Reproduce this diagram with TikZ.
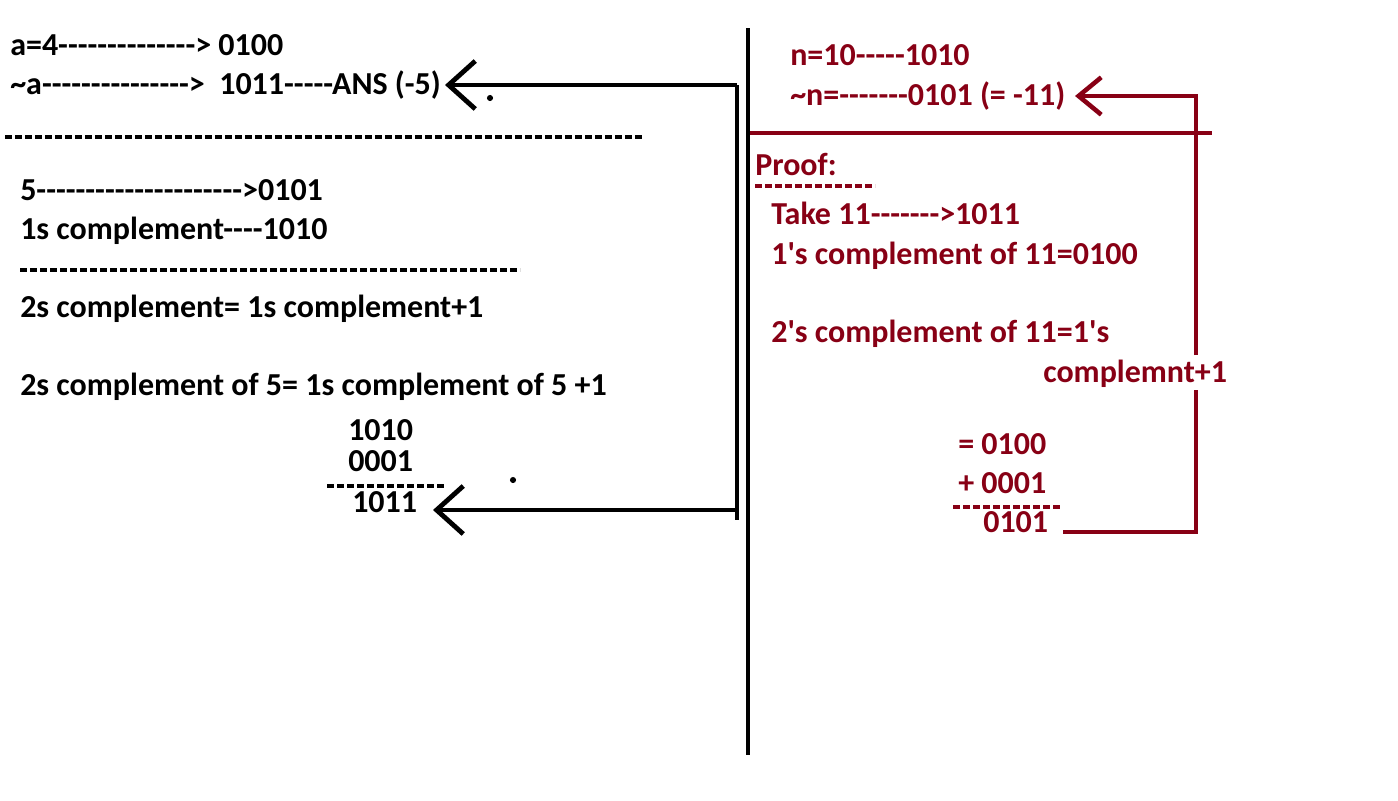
\documentclass[tikz,border=0pt]{standalone}
\usepackage{fontspec}
\setmainfont{Carlito}[Ligatures=TeXOff]
\usetikzlibrary{arrows.meta,calc}
\definecolor{dred}{HTML}{880015}
\begin{document}
\begin{tikzpicture}[x=0.75pt,y=-0.75pt,
  txt/.style={font=\fontsize{24}{29}\selectfont\bfseries, anchor=base west, inner sep=0pt, text=black},
  rtxt/.style={txt, text=dred},
  hy/.style={line width=2.6pt, dash pattern=on 5.4pt off 2.1pt},
  bline/.style={line width=3.6pt, black},
  barrow/.style={line width=3.6pt, black, -{Straight Barb[length=20pt,width=36pt,line width=3.6pt]}},
  rline/.style={line width=3.4pt, dred},
  rarrow/.style={line width=3.4pt, dred, -{Straight Barb[length=17pt,width=28pt,line width=3.4pt]}}]
\useasboundingbox (0,0) rectangle (1398,800);
\fill[white] (0,0) rectangle (1398,800);

% left texts
\node[txt] (a1) at (10,55) {a=4--------------> 0100};
\node[txt] (a2) at (10,94) {\textasciitilde a--------------->\ \ 1011-----ANS (-5)};
\node[txt] (b1) at (20,200) {5--------------------->0101};
\node[txt] (b2) at (20,239) {1s complement----1010};
\node[txt] (b3) at (20,317) {2s complement= 1s complement+1};
\node[txt] (b4) at (20,395) {2s complement of 5= 1s complement of 5 +1};
\node[txt] (c1) at (348,440) {1010};
\node[txt] (c2) at (348,471) {0001};
\node[txt] (c3) at (352,512) {1011};

\draw[hy] (5,137) -- (643,137);
\draw[hy] (20,270) -- (520,270);
\draw[hy] (327,486) -- (445,486);

% right texts
\node[rtxt] (r1) at (790,65) {n=10-----1010};
\node[rtxt] (r2) at (790,105) {\textasciitilde n=-------0101 (= -11)};
\node[rtxt] (r3) at (755,175) {Proof:};
\node[rtxt] (r4) at (771,224) {Take 11------->1011};
\node[rtxt] (r5) at (771,264) {1's complement of 11=0100};
\node[rtxt] (r6) at (771,342) {2's complement of 11=1's};
\node[rtxt] (r7) at (1043,382) {complemnt+1};
\node[rtxt] (r8) at (958,454) {= 0100};
\node[rtxt] (r9) at (958,493) {+ 0001};
\node[rtxt] (r10) at (983,532) {0101};

\draw[hy,dred] (755,186) -- (875,186);
\draw[hy,dred] (953,507) -- (1062,507);

% divider
\coordinate (dv1) at (748,28);
\coordinate (dv2) at (748,755);
\draw[bline] (dv1) -- (dv2);

% black connectors
\coordinate (j1) at (737,85);
\coordinate (j2) at (737,520);
\coordinate (j3) at (737,510);
\coordinate (t1) at (445,85);
\coordinate (t2) at (433,510);
\draw[bline] (j1) -- (j2);
\draw[barrow] (j1) -- (t1);
\draw[barrow] (j3) -- (t2);
\fill (490,98) circle (2.3pt);
\fill (513,480) circle (2.3pt);

% red connectors
\draw[rline] (750,133) -- (1212,133);
\coordinate (k0) at (1063,532);
\coordinate (k1) at (1196,532);
\coordinate (k2) at (1196,390);
\coordinate (k3) at (1196,355);
\coordinate (k4) at (1196,96);
\coordinate (k5) at (1075,96);
\draw[rline] (k0) -- (k1) -- (k2);
\draw[rarrow] (k3) -- (k4) -- (k5);
\end{tikzpicture}
\end{document}
